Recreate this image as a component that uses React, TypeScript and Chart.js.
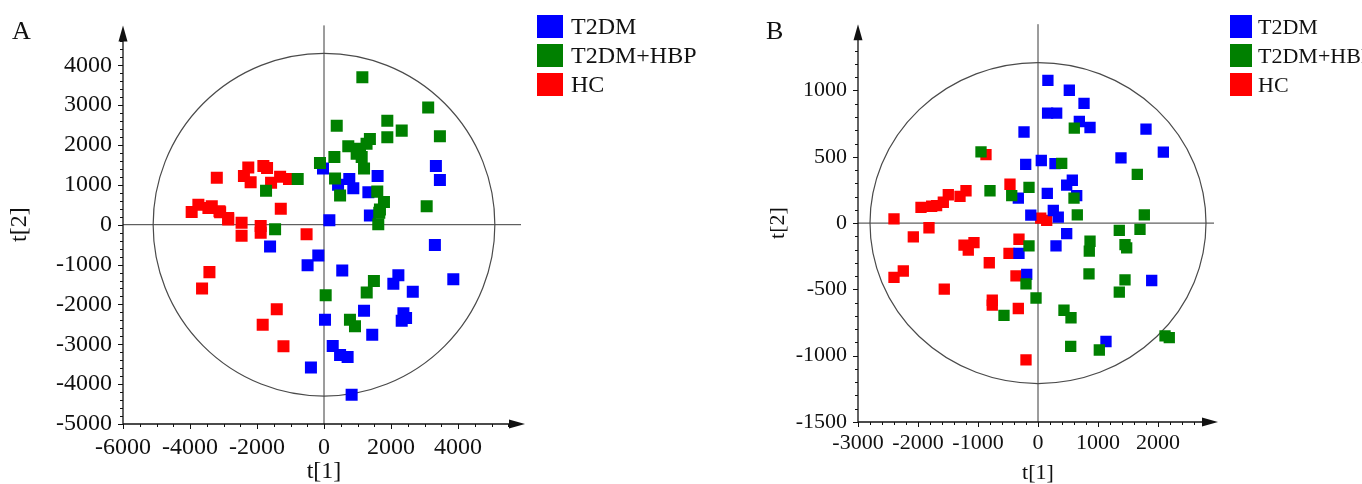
import React, { useEffect, useRef } from 'react';
import { Chart, registerables } from 'chart.js';

Chart.register(...registerables);

type Pt = [number, number];

// ---------- shared ----------
const seriesNames = ['T2DM', 'T2DM+HBP', 'HC'];
const seriesColors = ['#0000FF', '#008000', '#FF0000'];
const seriesOrder = [1, 0, 2]; // green drawn over blue, blue over red

// ---------- Panel A data ----------
const aT2DM: Pt[] = [
  [-30, 1410], [160, 110], [420, 1000], [3340, 1470], [3460, 1120], [1600, 1220],
  [755, 1145], [875, 915], [1325, 815], [1370, 230], [3310, -510], [3860, -1370],
  [-170, -775], [-490, -1020], [545, -1150], [2220, -1270], [2070, -1480], [2650, -1680],
  [1195, -2160], [2370, -2220], [2450, -2340], [2320, -2410], [30, -2385], [1440, -2760],
  [260, -3045], [480, -3270], [705, -3320], [-390, -3580], [825, -4265], [-1610, -545],
];
const aT2DMHBP: Pt[] = [
  [-785, 1145], [-1730, 850], [-1460, -115], [-120, 1550], [380, 2480], [330, 1160],
  [480, 735], [1145, 3700], [3110, 2940], [3460, 2220], [1890, 2610], [2320, 2360],
  [1890, 2195], [1370, 2150], [1270, 2030], [725, 1970], [1075, 1905], [975, 1780],
  [1125, 1700], [310, 1700], [1195, 1410], [1590, 830], [1790, 570], [1650, 300],
  [1620, 10], [3065, 460], [1670, 380], [1490, -1410], [1275, -1700], [50, -1770],
  [775, -2385], [925, -2550],
];
const aHC: Pt[] = [
  [-3950, 320], [-3750, 500], [-3450, 420], [-3350, 460], [-3200, 1180], [-3120, 340],
  [-3100, 310], [-2860, 170], [-2860, 130], [-2460, 50], [-2460, -280], [-2390, 1220],
  [-2260, 1435], [-2190, 1065], [-1890, -30], [-1890, -200], [-1810, 1470], [-1700, 1420],
  [-1580, 1055], [-1310, 1205], [-1045, 1145], [-1290, 400], [-520, -240], [-3420, -1190],
  [-3640, -1600], [-1410, -2120], [-1830, -2510], [-1210, -3050],
];
const aXTicks = [-6000, -4000, -2000, 0, 2000, 4000];
const aYTicks = [-5000, -4000, -3000, -2000, -1000, 0, 1000, 2000, 3000, 4000];

// ---------- Panel B data ----------
const bT2DM: Pt[] = [
  [165, 1077], [522, 1002], [767, 903], [160, 830], [311, 830], [689, 766], [867, 721],
  [-233, 687], [1800, 709], [2089, 535], [1383, 492], [55, 472], [-205, 443], [283, 448],
  [572, 323], [478, 286], [645, 207], [-328, 189], [155, 224], [-120, 60], [255, 95],
  [338, 45], [478, -80], [300, -172], [-317, -229], [-188, -386], [1895, -433], [1133, -893],
];
const bT2DMHBP: Pt[] = [
  [-950, 537], [-800, 244], [-438, 207], [-150, 269], [605, 716], [395, 450], [1655, 368],
  [600, 189], [655, 62], [1772, 62], [1355, -55], [1700, -47], [-150, -172], [867, -137],
  [855, -211], [1450, -162], [1478, -187], [850, -383], [1450, -428], [1355, -520],
  [-200, -458], [-33, -565], [-567, -696], [433, -657], [550, -714], [2117, -851],
  [2188, -863], [545, -930], [1022, -957],
];
const bHC: Pt[] = [
  [-867, 517], [-467, 293], [-1200, 244], [-1300, 201], [-1495, 214], [-1578, 157],
  [-1690, 132], [-1772, 127], [-1950, 119], [-2400, 32], [45, 37], [145, 20], [-1817, -35],
  [-2078, -104], [-1233, -166], [-1067, -147], [-1162, -204], [-812, -299], [-483, -229],
  [-317, -122], [-367, -398], [-2245, -361], [-2400, -410], [-1562, -498], [-762, -582],
  [-762, -619], [-328, -644], [-200, -1032],
];
const bXTicks = [-3000, -2000, -1000, 0, 1000, 2000];
const bYTicks = [-1500, -1000, -500, 0, 500, 1000];

const FONT = "'Liberation Serif', 'Times New Roman', serif";

const pcaPlugin = {
  id: 'pca',
  beforeDatasetsDraw(chart: any, _a: any, o: any) {
    const { ctx, chartArea: ca, scales } = chart;
    const x = scales.x, y = scales.y;
    const x0 = x.getPixelForValue(0), y0 = y.getPixelForValue(0);
    ctx.save();
    ctx.strokeStyle = '#3a3a3a';
    ctx.lineWidth = 1;
    ctx.beginPath();
    ctx.moveTo(x0, ca.top);
    ctx.lineTo(x0, ca.bottom);
    ctx.moveTo(ca.left, y0);
    ctx.lineTo(ca.right - 4, y0);
    ctx.stroke();
    const rx = Math.abs(x.getPixelForValue(o.rx) - x0);
    const ry = Math.abs(y.getPixelForValue(o.ry) - y0);
    ctx.strokeStyle = '#4a4a4a';
    ctx.lineWidth = 1.2;
    ctx.beginPath();
    ctx.ellipse(x0, y0, rx, ry, 0, 0, Math.PI * 2);
    ctx.stroke();
    ctx.restore();
  },
  afterDraw(chart: any, _a: any, o: any) {
    const { ctx, chartArea: ca, scales } = chart;
    const x = scales.x, y = scales.y;
    const L = ca.left, B = ca.bottom, R = ca.right, T = ca.top;
    ctx.save();
    ctx.strokeStyle = '#111';
    ctx.fillStyle = '#111';
    ctx.lineWidth = 1.3;
    ctx.beginPath();
    ctx.moveTo(L, B);
    ctx.lineTo(R - 10, B);
    ctx.moveTo(L, B);
    ctx.lineTo(L, T + 10);
    ctx.stroke();
    // arrows
    ctx.beginPath();
    ctx.moveTo(R, B);
    ctx.lineTo(R - 16, B - 4.5);
    ctx.lineTo(R - 16, B + 4.5);
    ctx.closePath();
    ctx.fill();
    ctx.beginPath();
    ctx.moveTo(L, T);
    ctx.lineTo(L - 4.5, T + 16);
    ctx.lineTo(L + 4.5, T + 16);
    ctx.closePath();
    ctx.fill();
    // ticks
    ctx.lineWidth = 1;
    ctx.beginPath();
    for (let v = x.min; v < x.max; v += o.xMinor) {
      const px = Math.round(x.getPixelForValue(v)) + 0.5;
      if (px > R - 14) break;
      const major = Math.abs(v % o.xMajor) < 1e-6;
      ctx.moveTo(px, B);
      ctx.lineTo(px, B + (major ? 5 : 3));
    }
    for (let v = y.min; v < y.max; v += o.yMinor) {
      const py = Math.round(y.getPixelForValue(v)) + 0.5;
      if (py < T + 14) break;
      const major = Math.abs(v % o.yMajor) < 1e-6;
      ctx.moveTo(L, py);
      ctx.lineTo(L - (major ? 5 : 3), py);
    }
    ctx.stroke();
    ctx.restore();
  },
};

interface PanelProps {
  series: Pt[][];
  xTicks: number[];
  yTicks: number[];
  xMin: number; xMax: number; yMin: number; yMax: number;
  rx: number; ry: number;
  xMinor: number; yMinor: number; xMajor: number; yMajor: number;
  width: number; height: number;
  padLeft: number; padRight: number; padTop: number;
  yWidth: number; xHeight: number;
  fontSize: number; xTickPad: number; yTickPad: number; yTitlePad: number;
  pointRadius: number;
}

function Panel(p: PanelProps) {
  const ref = useRef<HTMLCanvasElement | null>(null);
  useEffect(() => {
    if (!ref.current) return;
    const tickFont = { family: FONT, size: p.fontSize };
    const chart = new Chart(ref.current, {
      type: 'scatter',
      data: {
        datasets: p.series.map((pts, i) => ({
          label: seriesNames[i],
          data: pts.map(([vx, vy]) => ({ x: vx, y: vy })),
          pointStyle: 'rect',
          pointRadius: p.pointRadius,
          pointHoverRadius: p.pointRadius,
          backgroundColor: seriesColors[i],
          borderColor: seriesColors[i],
          borderWidth: 0,
          order: seriesOrder[i],
        })),
      },
      options: {
        responsive: false,
        animation: false,
        events: [],
        layout: { padding: { left: p.padLeft, right: p.padRight, top: p.padTop, bottom: 0 } },
        plugins: {
          legend: { display: false },
          tooltip: { enabled: false },
          pca: {
            rx: p.rx, ry: p.ry, xMinor: p.xMinor, yMinor: p.yMinor,
            xMajor: p.xMajor, yMajor: p.yMajor,
          },
        } as any,
        scales: {
          x: {
            type: 'linear',
            min: p.xMin,
            max: p.xMax,
            grid: { display: false, drawTicks: false },
            border: { display: false },
            afterBuildTicks: (s: any) => { s.ticks = p.xTicks.map((v) => ({ value: v })); },
            afterFit: (s: any) => { s.height = p.xHeight; },
            ticks: {
              font: tickFont, color: '#111', padding: p.xTickPad,
              maxRotation: 0, autoSkip: false,
              callback: (v: any) => String(v),
            },
            title: {
              display: true, text: 't[1]', color: '#111',
              font: { family: FONT, size: p.fontSize, lineHeight: 1 },
              padding: { top: 0, bottom: 0 },
            },
          },
          y: {
            type: 'linear',
            min: p.yMin,
            max: p.yMax,
            grid: { display: false, drawTicks: false },
            border: { display: false },
            afterBuildTicks: (s: any) => { s.ticks = p.yTicks.map((v) => ({ value: v })); },
            afterFit: (s: any) => { s.width = p.yWidth; },
            ticks: {
              font: tickFont, color: '#111', padding: p.yTickPad,
              autoSkip: false,
              callback: (v: any) => String(v),
            },
            title: {
              display: true, text: 't[2]', color: '#111',
              font: { family: FONT, size: p.fontSize, lineHeight: 1 },
              padding: { top: p.yTitlePad, bottom: 0 },
            },
          },
        },
      },
      plugins: [pcaPlugin],
    } as any);
    return () => chart.destroy();
  }, []);
  return (
    <canvas
      ref={ref}
      width={p.width}
      height={p.height}
      style={{ width: p.width, height: p.height, display: 'block' }}
    />
  );
}

function Legend(props: { left: number; top: number; sqW: number; sqH: number; gap: number; step: number; fontSize: number }) {
  return (
    <div style={{ position: 'absolute', left: props.left, top: props.top }}>
      {seriesNames.map((n, i) => (
        <div
          key={n}
          style={{
            position: 'absolute', left: 0, top: i * props.step, height: props.sqH,
            display: 'flex', alignItems: 'center', whiteSpace: 'nowrap',
          }}
        >
          <div style={{ width: props.sqW, height: props.sqH, background: seriesColors[i] }} />
          <span
            style={{
              marginLeft: props.gap, fontFamily: FONT, fontSize: props.fontSize,
              lineHeight: `${props.sqH}px`, color: '#111',
            }}
          >
            {n}
          </span>
        </div>
      ))}
    </div>
  );
}

export default function App() {
  return (
    <div
      style={{
        position: 'fixed', left: 0, top: 0, width: 1362, height: 484,
        overflow: 'hidden', background: '#fff',
      }}
    >
      <div style={{ position: 'absolute', left: 0, top: 0 }}>
        <Panel
          series={[aT2DM, aT2DMHBP, aHC]}
          xTicks={aXTicks} yTicks={aYTicks}
          xMin={-6000} xMax={6000} yMin={-5000} yMax={5000}
          rx={5100} ry={4300}
          xMinor={500} yMinor={200} xMajor={2000} yMajor={1000}
          width={680} height={484}
          padLeft={0} padRight={155} padTop={20}
          yWidth={123} xHeight={60}
          fontSize={24} xTickPad={9} yTickPad={11} yTitlePad={8}
          pointRadius={8.5}
        />
      </div>
      <div style={{ position: 'absolute', left: 680, top: 0 }}>
        <Panel
          series={[bT2DM, bT2DMHBP, bHC]}
          xTicks={bXTicks} yTicks={bYTicks}
          xMin={-3000} xMax={3000} yMin={-1500} yMax={1500}
          rx={2800} ry={1210}
          xMinor={200} yMinor={100} xMajor={1000} yMajor={500}
          width={682} height={484}
          padLeft={80} padRight={144} padTop={20}
          yWidth={98} xHeight={62}
          fontSize={22} xTickPad={8} yTickPad={11} yTitlePad={7}
          pointRadius={8}
        />
      </div>
      <div style={{ position: 'absolute', left: 12, top: 18, fontFamily: FONT, fontSize: 26, lineHeight: '26px', color: '#111' }}>A</div>
      <div style={{ position: 'absolute', left: 766, top: 18, fontFamily: FONT, fontSize: 26, lineHeight: '26px', color: '#111' }}>B</div>
      <Legend left={537} top={15} sqW={26} sqH={23} gap={8} step={29} fontSize={24} />
      <Legend left={1230} top={15} sqW={22} sqH={23} gap={6} step={29} fontSize={22} />
    </div>
  );
}
